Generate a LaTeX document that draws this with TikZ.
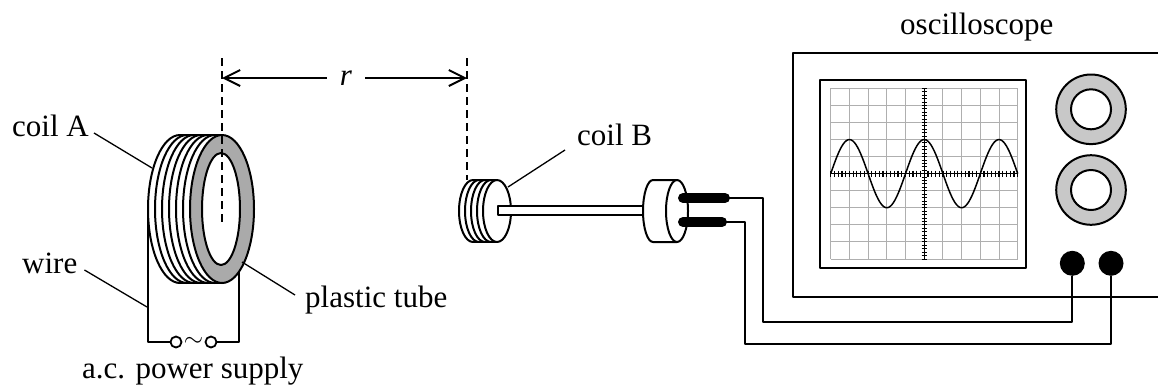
\documentclass[tikz,border=0pt]{standalone}
\usepackage{fontspec}
\setmainfont{Liberation Serif}
\usetikzlibrary{arrows.meta}

\definecolor{tubegray}{RGB}{170,170,170}
\definecolor{knobgray}{RGB}{200,200,200}
\definecolor{gridgray}{RGB}{175,175,175}

\begin{document}
\begin{tikzpicture}[x=1pt,y=-1pt,line join=round,
                    font=\fontsize{31}{36}\selectfont]
\tikzstyle{every node}=[inner sep=0pt,anchor=base west]
\tikzstyle{outline}=[line width=2pt]
\tikzstyle{leader}=[line width=1.3pt]
\tikzstyle{lead}=[line width=2pt]
\tikzstyle{guide}=[line width=2pt,dash pattern=on 8pt off 5pt]
\tikzstyle{dim}=[line width=2pt,-{Straight Barb[length=16pt,width=16pt,line width=2pt]}]
\tikzstyle{prong}=[line width=10pt,line cap=round]
\tikzstyle{gridline}=[line width=1pt,gridgray]
\tikzstyle{terminal}=[circle,draw,line width=1.8pt,fill=white,minimum size=11pt,anchor=center]
\tikzstyle{knob}=[outline,fill=knobgray]
\tikzstyle{socket}=[circle,fill=black,minimum size=25pt,anchor=center]

\useasboundingbox (0,0) rectangle (1158,389);

% labels
\node (coilA) at (12,136) {coil A};
\node (wire) at (22,273) {wire};
\node (tube) at (305,307) {plastic tube};
\node (supply) at (82,378) {a.c. power supply};
\node (coilB) at (577,145) {coil B};
\node (scope) at (900,34) {oscilloscope};

% coil A
\foreach \k in {6,5,...,1}
  \draw[outline] (222-7*\k,135) arc[start angle=-90,end angle=-270,x radius=32,y radius=74];
\draw[outline] (180,135) -- (222,135) (180,283) -- (222,283);
\filldraw[outline,fill=tubegray] (222,209) ellipse[x radius=32,y radius=74];
\filldraw[outline,fill=white] (221,209) ellipse[x radius=19,y radius=56];

% supply
\node[terminal] (t1) at (176,342) {};
\node[terminal] (t2) at (211,342) {};
\node[anchor=center,font=\fontsize{26}{26}\selectfont] (tilde) at (193.5,341.5) {$\sim$};
\coordinate (A1) at (148,215);
\coordinate (A2) at (239,272);
\draw[lead] (A1) |- (t1.west);
\draw[lead] (t2.east) -| (A2);

% distance r
\draw[guide] (222,58) -- (222,222);
\draw[guide] (467,58) -- (467,180);
\node[anchor=center,inner xsep=13pt] (r) at (346,78) {\textit{r}};
\coordinate (rL) at (222,78);
\coordinate (rR) at (467,78);
\draw[dim] (r.west) -- (rL);
\draw[dim] (r.east) -- (rR);

% coil B and probe
\foreach \k in {4,3,2,1}
  \draw[outline] (497-6*\k,180) arc[start angle=-90,end angle=-270,x radius=14,y radius=31];
\draw[outline] (473,180) -- (497,180) (473,242) -- (497,242);
\filldraw[outline,fill=white] (497,211) ellipse[x radius=14,y radius=31];
\filldraw[outline,fill=white] (498,206) rectangle (643,215);
\filldraw[outline,fill=white] (677,180) -- (653,180)
  arc[start angle=-90,end angle=-270,x radius=10,y radius=31] -- (677,242) -- cycle;
\filldraw[outline,fill=white] (677,211) ellipse[x radius=11,y radius=31];
\coordinate (p1) at (725,198);
\coordinate (p2) at (722,222);
\draw[prong] (683,198) -- (p1);
\draw[prong] (683,222) -- (p2);

% oscilloscope
\draw[outline] (1158,53) -- (793,53) -- (793,297) -- (1158,297);
\draw[line width=2.5pt] (820,80) rectangle (1026,268);
\foreach \i in {0,...,10}
  \draw[gridline] (830.7+18.7*\i,88.3) -- (830.7+18.7*\i,259);
\foreach \j in {0,...,10}
  \draw[gridline] (830.7,88.3+17.07*\j) -- (1017.7,88.3+17.07*\j);
\draw[line width=1.4pt] (830.7,173.65) -- (1017.7,173.65) (924.2,88.3) -- (924.2,259);
\foreach \i in {0,...,50}
  \draw[line width=1.2pt] (830.7+3.74*\i,170.5) -- (830.7+3.74*\i,176.8);
\foreach \j in {0,...,50}
  \draw[line width=0.9pt] (921.5,88.3+3.414*\j) -- (926.9,88.3+3.414*\j);
\draw[line width=1.5pt] plot[domain=0:187,samples=120,smooth]
  (830.7+\x,{173.65-34.1*sin(4.8128*\x)});
\foreach \y in {109.3,190} {
  \filldraw[knob] (1091,\y) circle[radius=34.8];
  \filldraw[outline,fill=white] (1091,\y) circle[radius=20];
}
\node[socket] (s1) at (1072.3,263.3) {};
\node[socket] (s2) at (1111,263.3) {};
\draw[lead] (p1) -| (763,322) -| (s1.south);
\draw[lead] (p2) -| (745,344) -| (s2.south);

% leaders
\coordinate (coilAend) at (152,168);
\coordinate (wireend) at (147,307);
\coordinate (tubeend) at (242,262);
\coordinate (coilBend) at (508,187);
\draw[leader] ([xshift=5pt,yshift=3pt]coilA.base east) -- (coilAend);
\draw[leader] ([xshift=7pt,yshift=3pt]wire.base east) -- (wireend);
\draw[leader] ([xshift=-10pt,yshift=12pt]tube.base west) -- (tubeend);
\draw[leader] ([xshift=-12pt,yshift=-5pt]coilB.base west) -- (coilBend);

\end{tikzpicture}
\end{document}
